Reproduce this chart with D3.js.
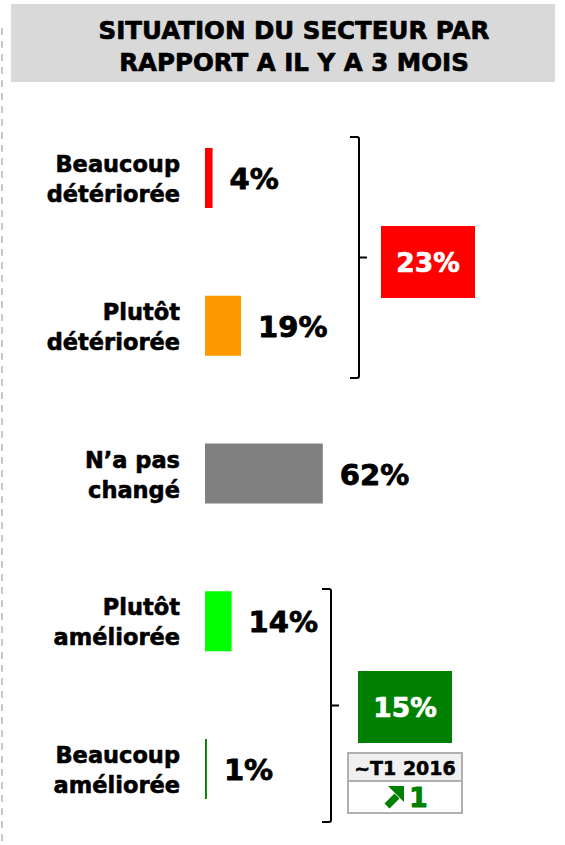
<!DOCTYPE html>
<html><head><meta charset="utf-8">
<script src="https://cdn.jsdelivr.net/npm/d3@7"></script>
<style>html,body{margin:0;padding:0;background:#fff;}svg{display:block;font-family:"DejaVu Sans",Verdana,sans-serif;font-weight:bold;}
text{stroke-linejoin:round;paint-order:stroke;}</style>
</head><body><svg id="c" width="565" height="845"></svg>
<script>
const titleLines = ["SITUATION DU SECTEUR PAR", "RAPPORT A IL Y A 3 MOIS"];
const categories = ["Beaucoup détériorée", "Plutôt détériorée", "N’a pas changé", "Plutôt améliorée", "Beaucoup améliorée"];
const labelLines = [["Beaucoup", "détériorée"], ["Plutôt", "détériorée"], ["N’a pas", "changé"], ["Plutôt", "améliorée"], ["Beaucoup", "améliorée"]];
const values = [4, 19, 62, 14, 1];
const barColors = ["#ff0000", "#ff9900", "#808080", "#00ff00", "#008000"];
const groupNames = ["Détériorée", "Améliorée"];
const groupMembers = [[0, 1], [3, 4]];
const groupTotals = [23, 15];
const groupColors = ["#ff0000", "#008000"];
const trendLabel = "~T1 2016";
const trendChange = 1;

const svg = d3.select("#c");

// dashed left border
svg.append("line").attr("x1", 2).attr("x2", 2).attr("y1", 28).attr("y2", 845)
  .attr("stroke", "#c8c8c8").attr("stroke-width", 2).attr("stroke-dasharray", "7,6");

// title
svg.append("rect").attr("x", 11).attr("y", 4).attr("width", 544).attr("height", 78).attr("fill", "#d9d9d9");
svg.append("text").attr("text-anchor", "middle").attr("font-size", 24.5).attr("fill", "#000")
  .attr("stroke", "#000").attr("stroke-width", 0.7)
  .selectAll("tspan").data(titleLines).join("tspan")
  .attr("x", 294).attr("y", (d, i) => 39 + i * 32).text(d => d);

const x = d3.scaleLinear().domain([0, 100]).range([205, 395]);
const y = d3.scalePoint().domain(categories).range([178, 769]);
const barH = 60;

svg.selectAll("rect.bar").data(values).join("rect").attr("class", "bar")
  .attr("x", x(0)).attr("y", (d, i) => y(categories[i]) - barH / 2)
  .attr("width", d => x(d) - x(0)).attr("height", barH)
  .attr("fill", (d, i) => barColors[i]);

svg.selectAll("text.val").data(values).join("text").attr("class", "val")
  .attr("x", d => x(d) + 17).attr("y", (d, i) => y(categories[i]) + 11)
  .attr("font-size", 29).attr("fill", "#000").attr("stroke", "#000").attr("stroke-width", 0.8)
  .text(d => d + "%");

const lab = svg.selectAll("text.cat").data(labelLines).join("text").attr("class", "cat")
  .attr("text-anchor", "end").attr("font-size", 22.5).attr("fill", "#000")
  .attr("stroke", "#000").attr("stroke-width", 0.6);
lab.selectAll("tspan").data((d, i) => d.map(t => ({t, i}))).join("tspan")
  .attr("x", 180).attr("y", (d, j) => y(categories[d.i]) - 6 + j * 30).text(d => d.t);

// braces
const braceX = [359, 331];
const braceTop = [137, 589];
const braceBot = [378, 822];
groupMembers.forEach((m, g) => {
  const bx = braceX[g], t = braceTop[g], b = braceBot[g], mid = (t + b) / 2;
  const p = d3.path();
  p.moveTo(bx - 9, t); p.lineTo(bx - 2, t); p.quadraticCurveTo(bx, t, bx, t + 2);
  p.lineTo(bx, b - 2); p.quadraticCurveTo(bx, b, bx - 2, b); p.lineTo(bx - 9, b);
  svg.append("path").attr("d", p.toString()).attr("fill", "none").attr("stroke", "#000").attr("stroke-width", 2);
  svg.append("line").attr("x1", bx).attr("x2", bx + 8).attr("y1", mid).attr("y2", mid).attr("stroke", "#000").attr("stroke-width", 2);
});

// group boxes
const boxes = [{x: 381, y: 226, w: 94, h: 72}, {x: 358, y: 671, w: 94, h: 72}];
boxes.forEach((bx, g) => {
  svg.append("rect").attr("x", bx.x).attr("y", bx.y).attr("width", bx.w).attr("height", bx.h).attr("fill", groupColors[g]);
  svg.append("text").attr("x", bx.x + bx.w / 2).attr("y", bx.y + bx.h / 2 + 10).attr("text-anchor", "middle")
    .attr("font-size", 26.5).attr("fill", "#fff").attr("stroke", "#fff").attr("stroke-width", 0.7)
    .text(groupTotals[g] + "%");
});

// trend table
const tb = {x: 348, y: 753, w: 114, h1: 28, h2: 32};
svg.append("rect").attr("x", tb.x).attr("y", tb.y).attr("width", tb.w).attr("height", tb.h1).attr("fill", "#f0f0f0").attr("stroke", "#b0b0b0").attr("stroke-width", 2);
svg.append("rect").attr("x", tb.x).attr("y", tb.y + tb.h1).attr("width", tb.w).attr("height", tb.h2).attr("fill", "#fff").attr("stroke", "#b0b0b0").attr("stroke-width", 2);
svg.append("text").attr("x", tb.x + tb.w / 2).attr("y", tb.y + 22).attr("text-anchor", "middle")
  .attr("font-size", 19).attr("fill", "#000").attr("stroke", "#000").attr("stroke-width", 0.5).text(trendLabel);
// arrow NE
const head = d3.path();
head.moveTo(388, 786); head.lineTo(404, 786); head.lineTo(404, 802); head.closePath();
svg.append("path").attr("d", head.toString()).attr("fill", "#008000");
svg.append("line").attr("x1", 387).attr("y1", 806).attr("x2", 397).attr("y2", 796)
  .attr("stroke", "#008000").attr("stroke-width", 7);
svg.append("text").attr("x", 409).attr("y", 807).attr("font-size", 27).attr("fill", "#008000")
  .attr("stroke", "#008000").attr("stroke-width", 0.8).text(trendChange);
</script></body></html>
